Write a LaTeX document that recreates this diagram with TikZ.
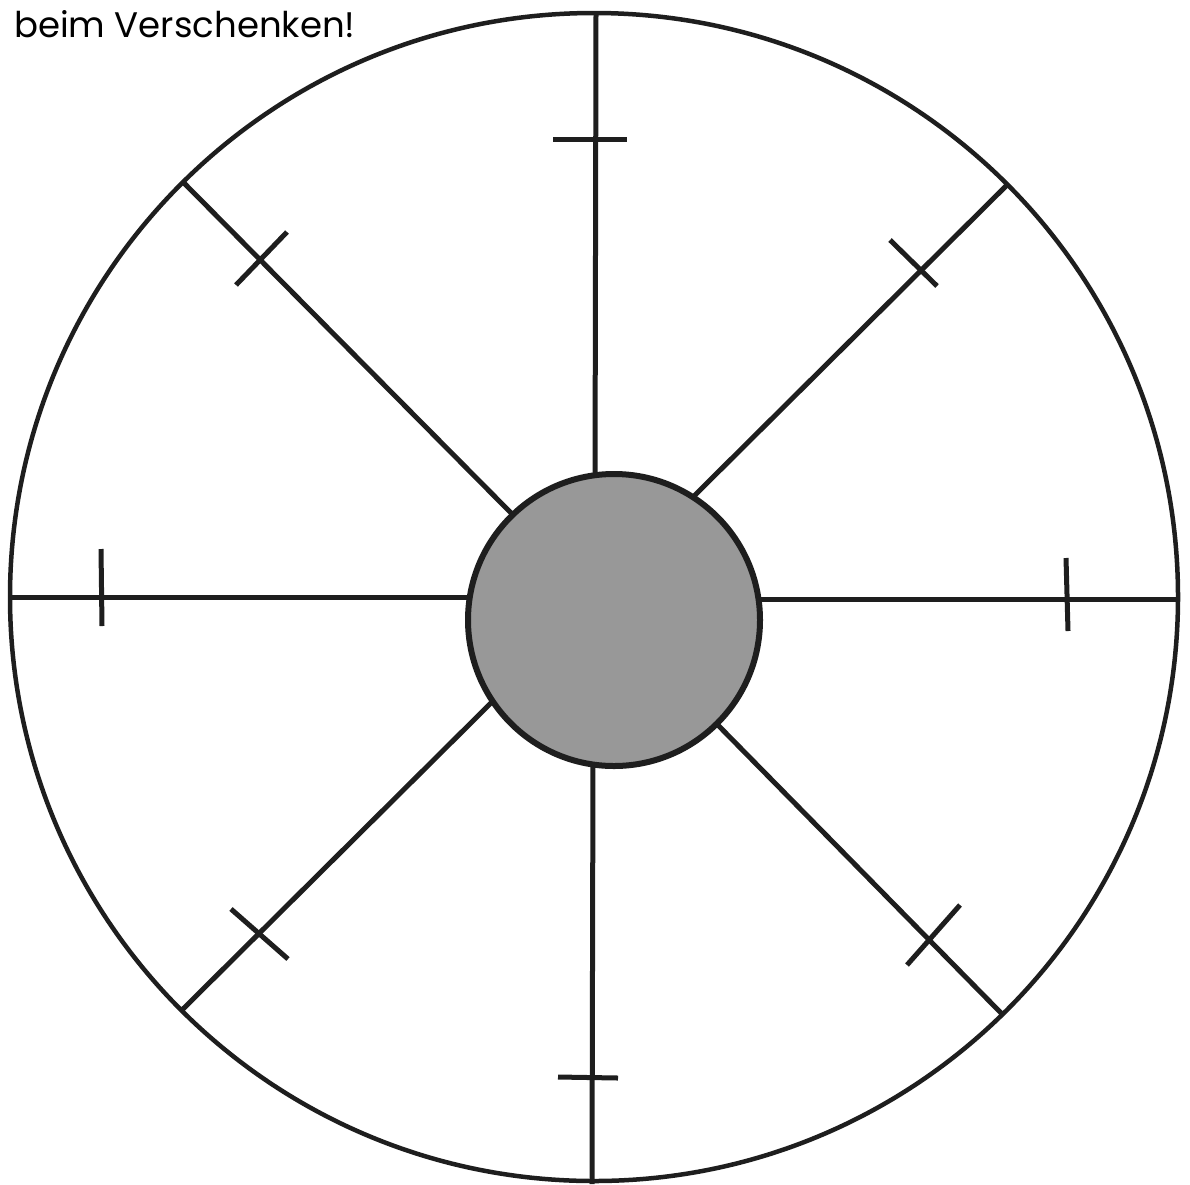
\documentclass[tikz,border=0pt]{standalone}
\usepackage{fontspec}
\setmainfont{Poppins}
\definecolor{ink}{RGB}{30,30,30}
\definecolor{hubgray}{RGB}{152,152,152}
\begin{document}
\begin{tikzpicture}[x=1pt,y=-1pt,
  rim/.style={line width=4.5pt, draw=ink},
  spoke/.style={line width=5pt, draw=ink},
  tick/.style={line width=5pt, draw=ink},
  hub/.style={circle, draw=ink, line width=6pt, fill=hubgray, minimum size=292pt, inner sep=0pt},
  caption/.style={anchor=base west, inner sep=0pt, text=black, font=\fontsize{35.5}{42}\selectfont}]
\useasboundingbox (0,0) rectangle (1190,1184);
\draw[rim] (594,597) circle (584);
% outer ends of spokes
\coordinate (oN) at (596,12);
\coordinate (oS) at (592,1184);
\coordinate (oW) at (10,597);
\coordinate (oE) at (1177,599);
\coordinate (oNW) at (184,183);
\coordinate (oNE) at (1007,185);
\coordinate (oSW) at (182,1010);
\coordinate (oSE) at (1003,1015);
% inner ends of spokes
\coordinate (iN) at (595,490);
\coordinate (iS) at (593,750);
\coordinate (iW) at (490,597);
\coordinate (iE) at (740,599);
\coordinate (iNW) at (520,522);
\coordinate (iNE) at (690,500);
\coordinate (iSW) at (500,694);
\coordinate (iSE) at (710,717);
\foreach \d in {N,S,W,E,NW,NE,SW,SE}{\draw[spoke] (o\d) -- (i\d);}
% ticks
\coordinate (tNa) at (553,139); \coordinate (tNb) at (627,139);
\coordinate (tSa) at (558,1077); \coordinate (tSb) at (618,1078);
\coordinate (tWa) at (101,549); \coordinate (tWb) at (102,626);
\coordinate (tEa) at (1066,558); \coordinate (tEb) at (1068,631);
\coordinate (tNWa) at (287,232); \coordinate (tNWb) at (236,285);
\coordinate (tNEa) at (890,240); \coordinate (tNEb) at (937,286);
\coordinate (tSWa) at (231,909); \coordinate (tSWb) at (288,959);
\coordinate (tSEa) at (960,905); \coordinate (tSEb) at (907,965);
\foreach \d in {N,S,W,E,NW,NE,SW,SE}{\draw[tick] (t\d a) -- (t\d b);}
\node[hub] (hub) at (614,620) {};
\node[caption] (cap) at (14,37) {beim Verschenken!};
\end{tikzpicture}
\end{document}
